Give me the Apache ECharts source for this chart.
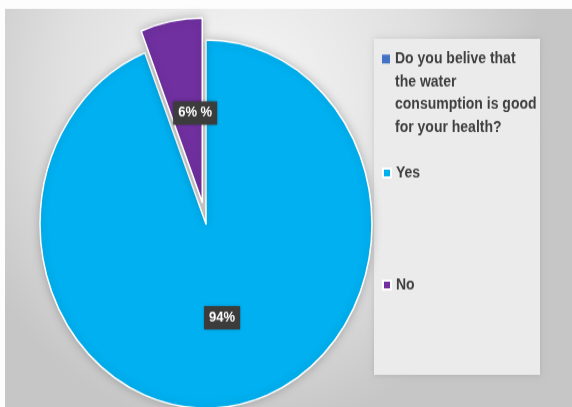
<!DOCTYPE html>
<html>
<head>
<meta charset="utf-8">
<script src="https://cdn.jsdelivr.net/npm/echarts@6/dist/echarts.min.js"></script>
<style>
  html, body { margin: 0; padding: 0; background: #fff; overflow: hidden; }
  #wrap { width: 572px; height: 407px; overflow: hidden; }
  /* the chart is drawn on a shorter canvas and stretched vertically, giving the oval pie */
  #chart { width: 572px; height: 367px; transform: scaleY(1.109); transform-origin: 0 0; }
</style>
</head>
<body>
<div id="wrap"><div id="chart"></div></div>
<script>
// Survey answers (percent of respondents)
const question = 'Do you belive that the water consumption is good for your health?';
const questionLines = ['Do you belive that', 'the water', 'consumption is good', 'for your health?'];
const categories = ['Yes', 'No'];
const values = [94, 6];
const labelSuffix = ['', ' %'];
const sliceColors = ['#00b0f0', '#7030a0'];
const questionColor = '#4472c4';

const LH = 20.7;           // legend line height
const FONT = '"Liberation Sans", Arial, sans-serif';

// Legend marker for a multi-line entry: a square beside the first line,
// with two hair-thin corner dots that stretch the icon box over the whole text block.
const blockH = questionLines.length * LH;
const sqTop = LH / 2 - 4;
const tallIcon = 'path://M0,0h0.01v0.01h-0.01Z' +
  'M0,' + sqTop + 'h8v8h-8Z' +
  'M7.99,' + (blockH - 0.01) + 'h0.01v0.01h-0.01Z';

const chart = echarts.init(document.getElementById('chart'), null, { renderer: 'canvas' });

const pieData = [
  { name: question, value: 0, itemStyle: { color: questionColor, borderWidth: 0 }, label: { show: false } }
].concat(categories.map((c, i) => ({
  name: c,
  value: values[i],
  selected: c === 'No',
  itemStyle: { color: sliceColors[i] },
  label: { formatter: p => Math.round(p.percent) + '%' + labelSuffix[i] }
})));

const legendText = {
  fontFamily: FONT, fontSize: 14, fontWeight: 'bold', color: '#404040', lineHeight: LH
};

chart.setOption({
  animation: false,
  graphic: [
    { type: 'rect', z: -10, shape: { x: 0, y: 0, width: 572, height: 367 }, style: { fill: '#fdfdfd' } },
    { type: 'rect', z: -9, shape: { x: 5, y: 8, width: 567, height: 359 },
      style: { fill: { type: 'radial', x: 0.42, y: 0.22, r: 0.85,
        colorStops: [{ offset: 0, color: '#f7f7f7' }, { offset: 0.6, color: '#e0e0e0' }, { offset: 1, color: '#c6c6c6' }] } } },
    { type: 'rect', z: -8, shape: { x: 374, y: 35, width: 166, height: 303 },
      style: { fill: '#ebebeb', shadowBlur: 6, shadowColor: 'rgba(0,0,0,0.12)' } }
  ],
  legend: [
    {
      data: [question], left: 382, top: 53.2 - LH / 2, orient: 'vertical', padding: 0,
      icon: tallIcon, itemWidth: 8, itemHeight: blockH, selectedMode: false,
      formatter: () => questionLines.join('\n'),
      textStyle: legendText
    },
    {
      data: ['Yes'], left: 382, top: 156 - LH / 2, orient: 'vertical', padding: 0,
      icon: 'rect', itemWidth: 8, itemHeight: 8, selectedMode: false, textStyle: legendText
    },
    {
      data: ['No'], left: 382, top: 257 - LH / 2, orient: 'vertical', padding: 0,
      icon: 'rect', itemWidth: 8, itemHeight: 8, selectedMode: false, textStyle: legendText
    }
  ],
  series: [{
    type: 'pie',
    center: [206, 202],
    radius: 166,
    startAngle: 90,
    clockwise: true,
    selectedMode: 'single',
    selectedOffset: 20,
    emphasis: { disabled: true },
    itemStyle: {
      borderColor: '#ffffff', borderWidth: 1.5,
      shadowBlur: 8, shadowColor: 'rgba(0,0,0,0.22)'
    },
    label: {
      show: true,
      position: 'inside',
      fontFamily: FONT, fontSize: 13, fontWeight: 'bold', color: '#ffffff',
      backgroundColor: '#3c3c3c', padding: [4, 5],
      shadowBlur: 3, shadowColor: 'rgba(0,0,0,0.4)'
    },
    // nudge the small slice's label toward the slice edge
    labelLayout: p => (p.dataIndex === 2 ? { dx: 9, dy: 4 } : {}),
    labelLine: { show: false },
    data: pieData
  }]
});
</script>
</body>
</html>
